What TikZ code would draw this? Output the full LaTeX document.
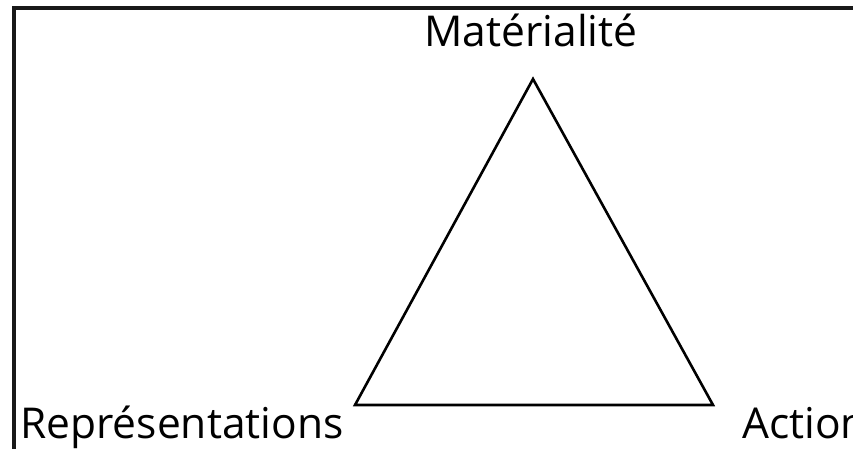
\documentclass[tikz,border=0pt]{standalone}
\usepackage{fontspec}
\setmainfont{Open Sans}

\begin{document}
\begin{tikzpicture}[x=1pt, y=-1pt, line width=2.6pt,
    label/.style={inner sep=0pt, font=\fontsize{42.5}{42.5}\selectfont}]
    \useasboundingbox (0,0) rectangle (853,449);
    \clip (0,0) rectangle (853,449);

    % Frame lines on the top and on the left.
    \draw[line width=3.5pt, black!90] (853,8) -- (14,8) -- (14,449);

    \coordinate (mat) at (533,79);
    \coordinate (rep) at (355,405);
    \coordinate (act) at (713,405);
    \draw[line join=miter] (mat) -- (act) -- (rep) -- cycle;

    \node[label, anchor=base] (tmat) at (531,47) {Matérialité};
    \node[label, anchor=base west] (trep) at (19,438) {Représentations};
    \node[label, anchor=base west] (tact) at (741,438) {Action};
\end{tikzpicture}
\end{document}
